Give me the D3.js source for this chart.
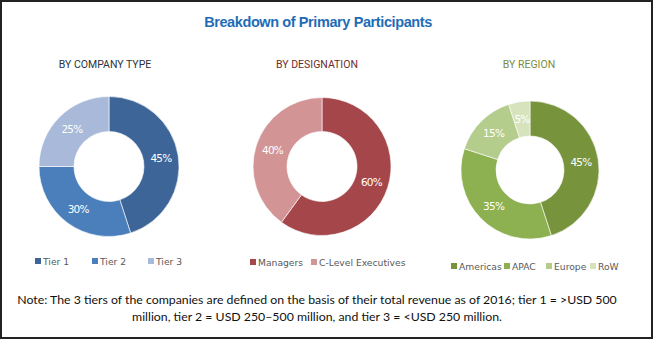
<!DOCTYPE html>
<html><head><meta charset="utf-8">
<script src="https://cdn.jsdelivr.net/npm/d3@7"></script>
<style>
body{margin:0;background:#fff;}
svg{display:block;}
</style></head>
<body>
<svg id="chart" width="654" height="340"></svg>
<script>
const title = "Breakdown of Primary Participants";
const companyCategories = ["Tier 1","Tier 2","Tier 3"];
const companyValues = [45,30,25];
const companyColors = ["#3d6598","#4b7fbc","#a8b9d9"];
const designationCategories = ["Managers","C-Level Executives"];
const designationValues = [60,40];
const designationColors = ["#a5464a","#d29495"];
const regionCategories = ["Americas","APAC","Europe","RoW"];
const regionValues = [45,35,15,5];
const regionColors = ["#77933c","#8db050","#b4cc8c","#d6e3bc"];
const noteLines = ["Note: The 3 tiers of the companies are defined on the basis of their total revenue as of 2016; tier 1 = >USD 500",
                   "million, tier 2 = USD 250\u2013500 million, and tier 3 = <USD 250 million."];

const svg = d3.select("#chart");
svg.append("rect").attr("x",1).attr("y",1).attr("width",651).attr("height",337)
  .attr("fill","#fff").attr("stroke","#222").attr("stroke-width",2);

svg.append("text").attr("x",318).attr("y",27).attr("text-anchor","middle")
  .attr("font-family","Liberation Sans, Arial, sans-serif").attr("font-weight","bold")
  .attr("font-size",14.5).attr("letter-spacing",-0.4).attr("fill","#1f6cb6").text(title);

const panels = [
  {sub:"BY COMPANY TYPE", subColor:"#2b3340", subX:105, cx:109, cy:166.5, r:70, ir:35,
   cats:companyCategories, vals:companyValues, cols:companyColors, legY:262,
   legX:[35,92,148]},
  {sub:"BY DESIGNATION", subColor:"#6e2c2c", subX:317, cx:322, cy:166.5, r:69, ir:35,
   cats:designationCategories, vals:designationValues, cols:designationColors, legY:263,
   legX:[250,311]},
  {sub:"BY REGION", subColor:"#7b8b3b", subX:529, cx:530, cy:170, r:69, ir:34,
   cats:regionCategories, vals:regionValues, cols:regionColors, legY:267,
   legX:[451,504,546,590]}
];

panels.forEach(p => {
  svg.append("text").attr("x",p.subX).attr("y",68).attr("text-anchor","middle")
    .attr("font-family","Roboto, sans-serif").attr("font-size",10.5)
    .attr("fill",p.subColor).text(p.sub);
  const pie = d3.pie().sort(null).value(d=>d)(p.vals);
  const arc = d3.arc().innerRadius(p.ir).outerRadius(p.r);
  const lab = d3.arc().innerRadius((p.r+p.ir)/2).outerRadius((p.r+p.ir)/2);
  const g = svg.append("g").attr("transform",`translate(${p.cx},${p.cy})`);
  g.selectAll("path").data(pie).join("path").attr("d",arc)
    .attr("fill",(d,i)=>p.cols[i]).attr("stroke","#fff").attr("stroke-width",0.6);
  g.selectAll("text").data(pie).join("text")
    .attr("transform",d=>`translate(${lab.centroid(d)})`)
    .attr("text-anchor","middle").attr("dy","0.35em")
    .attr("font-family","DejaVu Sans, sans-serif").attr("font-size",10.5)
    .attr("letter-spacing",-0.8)
    .attr("fill","#fff").text(d=>d.data+"%");
  const lg = svg.append("g");
  p.cats.forEach((c,i)=>{
    lg.append("rect").attr("x",p.legX[i]).attr("y",p.legY-4).attr("width",6).attr("height",6)
      .attr("fill",p.cols[i]);
    lg.append("text").attr("x",p.legX[i]+8).attr("y",p.legY+3)
      .attr("font-family","DejaVu Sans, sans-serif").attr("font-size",9.2)
      .attr("fill","#595959").text(c);
  });
});

noteLines.forEach((t,i)=>{
  svg.append("text").attr("x",317).attr("y",304+i*17).attr("text-anchor","middle")
    .attr("font-family","Lato, sans-serif").attr("font-size",12.3)
    .attr("fill","#111").text(t);
});
</script>
</body></html>
